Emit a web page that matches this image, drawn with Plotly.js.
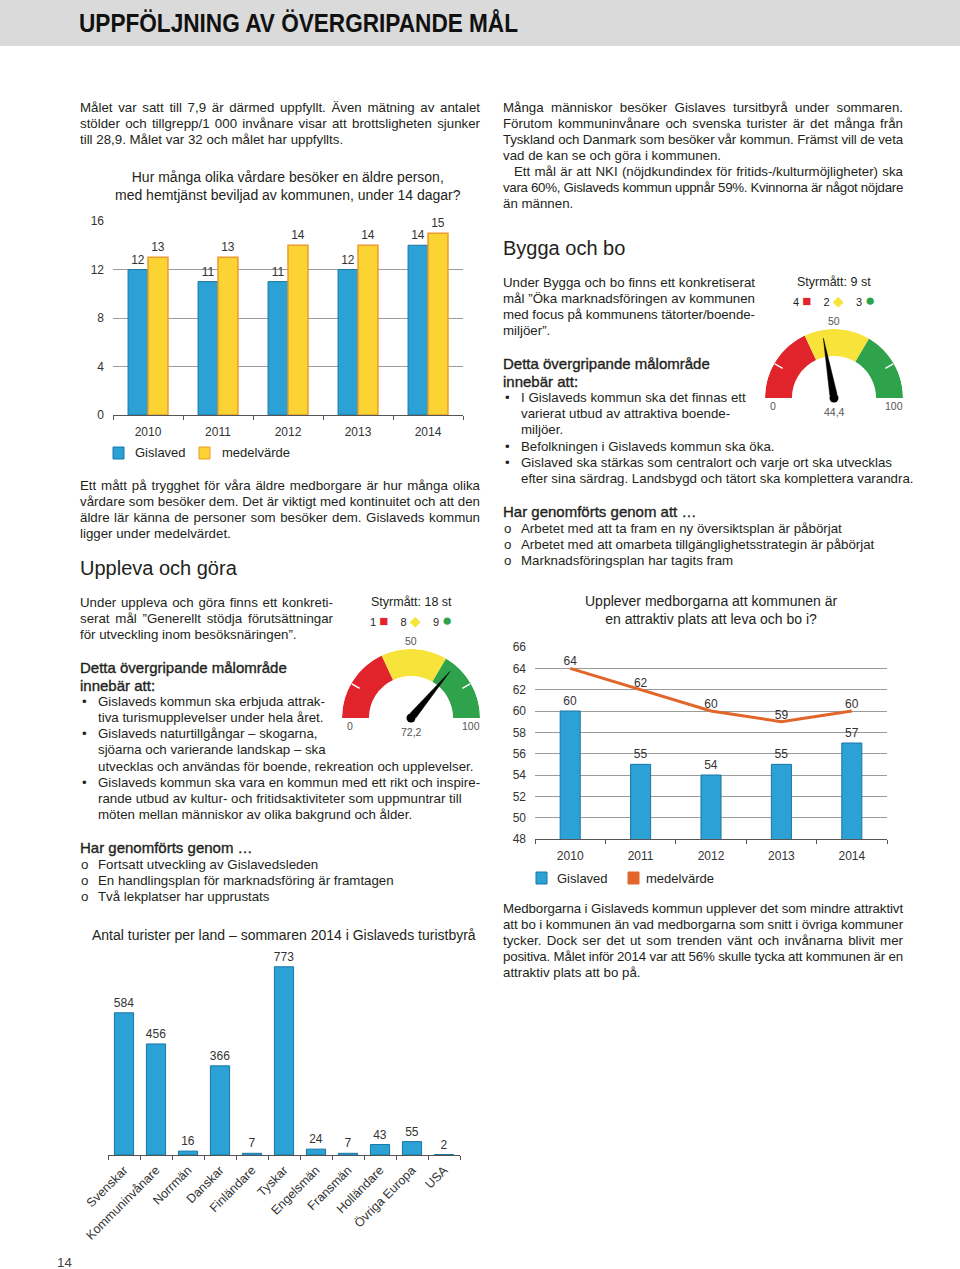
<!DOCTYPE html>
<html><head><meta charset="utf-8">
<script src="https://cdn.plot.ly/plotly-3.0.1.min.js"></script>
<style>
body{margin:0;width:960px;height:1269px;position:relative;background:#fff;font-family:"Liberation Sans",Arial,sans-serif;color:#231f20;overflow:hidden}
#hdr{position:absolute;left:0;top:0;width:960px;height:46px;background:#dadada}
#hdrt{position:absolute;left:79px;top:11px;line-height:25px;font-family:"Liberation Sans",Arial,sans-serif;font-weight:bold;font-size:25px;color:#111;white-space:nowrap;transform-origin:0 50%}
#chart{position:absolute;left:0;top:0;width:960px;height:1269px}
#txt{position:absolute;left:0;top:0;width:960px;height:1269px;pointer-events:none}
.ln{position:absolute;white-space:nowrap;font-size:13.3px;line-height:16px;height:16px}
.h1{font-size:20px;line-height:24px;height:24px}
.h2{font-size:15px;line-height:18px;height:18px;-webkit-text-stroke:0.35px #231f20}
</style></head>
<body>
<div id="hdr"></div>
<div id="hdrt">UPPFÖLJNING AV ÖVERGRIPANDE MÅL</div>
<div id="chart"></div>
<div id="txt"></div>
<script>
// ---------- data ----------
const years = ['2010','2011','2012','2013','2014'];
const vardareGislaved = [12,11,11,12,14];
const vardareMedel = [13,13,14,14,15];
const attraktivGislaved = [60,55,54,55,57];
const attraktivMedel = [64,62,60,59,60];
const turistLand = ['Svenskar','Kommuninvånare','Norrmän','Danskar','Finländare','Tyskar','Engelsmän','Fransmän','Holländare','Övriga Europa','USA'];
const turistAntal = [584,456,16,366,7,773,24,7,43,55,2];
const gaugeBands = [36,67,100];
const gaugeUpplevaValue = 72.2;
const gaugeByggaValue = 44.4;
const styrUppleva = [1,8,9];
const styrBygga = [4,2,3];

// ---------- style ----------
const BLUE='#2ba1d5', BLUE_L='#1a77a6', YEL='#fbd434', YEL_L='#ec9a2b', ORA='#e2662a';
const GRED='#e1242b', GYEL='#f7e33a', GGRN='#2fa34b';
const FONT='"Liberation Sans", Arial, sans-serif';
const W=960, H=1269;
const X = x => x/W, Y = y => 1 - y/H;
const fmt = v => String(v).replace('.', ',');

const traces = [];
// chart 1
traces.push({type:'bar', x:years, y:vardareGislaved, xaxis:'x', yaxis:'y', name:'Gislaved',
  marker:{color:BLUE, line:{color:BLUE_L, width:1}}, text:vardareGislaved.map(String), textposition:'outside',
  cliponaxis:false, constraintext:'none', textfont:{size:12,color:'#333'}});
traces.push({type:'bar', x:years, y:vardareMedel, xaxis:'x', yaxis:'y', name:'medelvärde',
  marker:{color:YEL, line:{color:YEL_L, width:1.5}}, text:vardareMedel.map(String), textposition:'outside',
  cliponaxis:false, constraintext:'none', textfont:{size:12,color:'#333'}});
// chart 3
traces.push({type:'bar', x:years, y:attraktivGislaved, xaxis:'x2', yaxis:'y2', name:'Gislaved', width:0.285,
  marker:{color:BLUE, line:{color:BLUE_L, width:1}}, text:attraktivGislaved.map(String), textposition:'outside',
  cliponaxis:false, constraintext:'none', textfont:{size:12,color:'#333'}});
traces.push({type:'scatter', mode:'lines+text', x:years, y:attraktivMedel, xaxis:'x2', yaxis:'y2', name:'medelvärde',
  line:{color:ORA, width:3}, text:attraktivMedel.map(String), textposition:'top center', cliponaxis:false,
  textfont:{size:12,color:'#333'}});
// chart 4
traces.push({type:'bar', x:turistLand, y:turistAntal, xaxis:'x3', yaxis:'y3', width:0.6,
  marker:{color:BLUE, line:{color:BLUE_L, width:1}}, text:turistAntal.map(String), textposition:'outside',
  cliponaxis:false, constraintext:'none', textfont:{size:12,color:'#333'}});

// gauges
const HOLE = 0.61;
function gauge(sub, value){
  const starts = gaugeBands.map((b,i)=> i===0?0:gaugeBands[i-1]);
  traces.push({type:'barpolar', subplot:sub,
    r: gaugeBands.map(()=>1-HOLE), base: gaugeBands.map(()=>HOLE),
    theta: gaugeBands.map((b,i)=>(starts[i]+b)/2*1.8),
    width: gaugeBands.map((b,i)=>(b-starts[i])*1.8),
    marker:{color:[GRED,GYEL,GGRN], line:{width:0}}});
  [30,150].forEach(t=>traces.push({type:'scatterpolar', subplot:sub, mode:'lines', r:[0.86,0.99], theta:[t,t],
    line:{color:'#ffffff', width:1.5}}));
  const t = value*1.8;
  traces.push({type:'scatterpolar', subplot:sub, mode:'lines', fill:'toself', fillcolor:'#000',
    r:[0.07,0.88,0.07,0.07], theta:[t-50,t,t+50,t-50], line:{color:'#000', width:0.5}});
  traces.push({type:'scatterpolar', subplot:sub, mode:'markers', r:[0], theta:[t], cliponaxis:false,
    marker:{color:'#000', size:9}});
}
gauge('polar', gaugeUpplevaValue);
gauge('polar2', gaugeByggaValue);

const tickF = {family:FONT, size:12, color:'#333'};
const catAxis = (d, anchor) => ({domain:d, anchor:anchor, type:'category', tickson:'boundaries', ticks:'outside', ticklen:4,
  tickcolor:'#555', showline:true, linecolor:'#555', linewidth:1, showgrid:false, tickfont:tickF, fixedrange:true,
  ticklabelstandoff:6});
const valAxis = (d, anchor, range, dtick) => ({domain:d, anchor:anchor, range:range, dtick:dtick, showgrid:true,
  gridcolor:'#9b9b9b', gridwidth:1, zeroline:false, showline:false, ticks:'', tickfont:tickF, fixedrange:true,
  ticklabelstandoff:8});
const polarL = (dx, dy) => ({domain:{x:dx, y:dy}, sector:[0,180], bgcolor:'rgba(0,0,0,0)',
  radialaxis:{visible:false, range:[0,1]}, angularaxis:{visible:false, rotation:180, direction:'clockwise'}});

const ann = [];
const A = (x,y,text,size,extra) => ann.push(Object.assign({xref:'paper', yref:'paper', x:X(x), y:Y(y), text:text,
  showarrow:false, xanchor:'center', yanchor:'middle', font:{family:FONT, size:size||12, color:'#231f20'}}, extra||{}));
A(288,186,'Hur många olika vårdare besöker en äldre person,<br>med hemtjänst beviljad av kommunen, under 14 dagar?',14);
A(711,610,'Upplever medborgarna att kommunen är<br>en attraktiv plats att leva och bo i?',14);
A(284,935,'Antal turister per land – sommaren 2014 i Gislaveds turistbyrå',14);
// legends
const shapes = [];
const sq = (x,y,c,lc) => shapes.push({type:'rect', xref:'paper', yref:'paper', x0:X(x), x1:X(x+11), y0:Y(y+6), y1:Y(y-6),
  fillcolor:c, line:{color:lc, width:1}});
sq(113,453,BLUE,BLUE_L); A(133,453,'Gislaved',13,{xanchor:'left'});
sq(199,453,YEL,YEL_L); A(220,453,'medelvärde',13,{xanchor:'left'});
sq(536,878,BLUE,BLUE_L); A(555,878,'Gislaved',13,{xanchor:'left'});
sq(628,878,ORA,ORA); A(644,878,'medelvärde',13,{xanchor:'left'});
// gauge labels
function gaugeText(cx, by, value, styr){
  const tot = styr.reduce((a,b)=>a+b,0);
  A(cx, by-116, 'Styrmått: '+tot+' st', 12.5);
  const s = (c,f) => ' <span style="color:'+c+';font-size:'+f+'px">';
  A(cx, by-98, styr[0]+s(GRED,15)+'■</span>    '+styr[1]+s(GYEL,14)+'◆</span>    '+styr[2]+s(GGRN,17)+'●</span>', 11);
  const gf = {font:{family:FONT,size:10.5,color:'#555'}};
  A(cx, by-77, '50', 10.5, gf);
  A(cx-61, by+8, '0', 10.5, gf);
  A(cx+60, by+8, '100', 10.5, gf);
  A(cx, by+14, fmt(value), 10.5, gf);
}
gaugeText(411,718,gaugeUpplevaValue,styrUppleva);
gaugeText(834,398,gaugeByggaValue,styrBygga);

const layout = {width:W, height:H, margin:{l:0,r:0,t:0,b:0}, paper_bgcolor:'rgba(0,0,0,0)', plot_bgcolor:'rgba(0,0,0,0)',
  showlegend:false, hovermode:false, barmode:'group', bargap:0.43, bargroupgap:0, font:{family:FONT},
  xaxis: catAxis([X(113),X(463)],'y'),
  yaxis: valAxis([Y(415),Y(221)],'x',[0,16],4),
  xaxis2: catAxis([X(535),X(887)],'y2'),
  yaxis2: valAxis([Y(839),Y(647)],'x2',[48,66],2),
  xaxis3: Object.assign(catAxis([X(108),X(460)],'y3'),{tickangle:-45, ticklabelstandoff:2, tickfont:{family:FONT,size:12.5,color:'#333'}}),
  yaxis3: {domain:[Y(1155),Y(948)], anchor:'x3', range:[0,850], visible:false, fixedrange:true},
  polar: polarL([X(342),X(480)],[Y(718),Y(649)]),
  polar2: polarL([X(765),X(903)],[Y(398),Y(329)]),
  annotations: ann, shapes: shapes};
Plotly.newPlot('chart', traces, layout, {staticPlot:true, displayModeBar:false});

// ---------- body text ----------
const txt = document.getElementById('txt');
const justified = [];
function line(x, yc, text, w, cls){
  const d = document.createElement('div');
  d.className = 'ln' + (cls ? ' '+cls : '');
  d.textContent = text;
  const h = cls==='h1' ? 24 : cls==='h2' ? 18 : 16;
  d.style.left = x+'px'; d.style.top = (yc - h/2)+'px';
  txt.appendChild(d);
  if (w) justified.push([d,w]);
  return d;
}
function para(x, y0, lines, w, step){
  lines.forEach((l,i)=>{ const j = l[0]==='J'; line(x + (l[1]||0), y0 + i*(step||16), l[2], j ? w-(l[1]||0) : 0); });
}
para(80,108,[
 ['J',0,'Målet var satt till 7,9 är därmed uppfyllt. Även mätning av antalet'],
 ['J',0,'stölder och tillgrepp/1 000 invånare visar att brottsligheten sjunker'],
 ['L',0,'till 28,9. Målet var 32 och målet har uppfyllts.']],400);
para(80,486,[
 ['J',0,'Ett mått på trygghet för våra äldre medborgare är hur många olika'],
 ['J',0,'vårdare som besöker dem. Det är viktigt med kontinuitet och att den'],
 ['J',0,'äldre lär känna de personer som besöker dem. Gislaveds kommun'],
 ['L',0,'ligger under medelvärdet.']],400);
line(80,568,'Uppleva och göra',0,'h1');
para(80,603,[
 ['J',0,'Under uppleva och göra finns ett konkreti-'],
 ['J',0,'serat mål ”Generellt stödja förutsättningar'],
 ['L',0,'för utveckling inom besöksnäringen”.']],253);
line(80,668,'Detta övergripande målområde',0,'h2');
line(80,686,'innebär att:',0,'h2');
[[702,'Gislaveds kommun ska erbjuda attrak-',1],[718,'tiva turismupplevelser under hela året.',0],
 [734,'Gislaveds naturtillgångar – skogarna,',1],[750,'sjöarna och varierande landskap – ska',0],
 [767,'utvecklas och användas för boende, rekreation och upplevelser.',0],
 [783,'Gislaveds kommun ska vara en kommun med ett rikt och inspire-',1],
 [799,'rande utbud av kultur- och fritidsaktiviteter som uppmuntrar till',0],
 [815,'möten mellan människor av olika bakgrund och ålder.',0]].forEach(b=>{
   if (b[2]) line(82,b[0],'•'); line(98,b[0],b[1]); });
line(80,848,'Har genomförts genom …',0,'h2');
[[865,'Fortsatt utveckling av Gislavedsleden'],[881,'En handlingsplan för marknadsföring är framtagen'],
 [897,'Två lekplatser har upprustats']].forEach(b=>{ line(81,b[0],'o'); line(98,b[0],b[1]); });

para(503,108,[
 ['J',0,'Många människor besöker Gislaves tursitbyrå under sommaren.'],
 ['J',0,'Förutom kommuninvånare och svenska turister är det många från'],
 ['J',0,'Tyskland och Danmark som besöker vår kommun. Främst vill de veta'],
 ['L',0,'vad de kan se och göra i kommunen.'],
 ['J',11,'Ett mål är att NKI (nöjdkundindex för fritids-/kulturmöjligheter) ska'],
 ['J',0,'vara 60%, Gislaveds kommun uppnår 59%. Kvinnorna är något nöjdare'],
 ['L',0,'än männen.']],400);
line(503,248,'Bygga och bo',0,'h1');
para(503,283,[
 ['J',0,'Under Bygga och bo finns ett konkretiserat'],
 ['J',0,'mål ”Öka marknadsföringen av kommunen'],
 ['J',0,'med focus på kommunens tätorter/boende-'],
 ['L',0,'miljöer”.']],252);
line(503,364,'Detta övergripande målområde',0,'h2');
line(503,382,'innebär att:',0,'h2');
[[398,'I Gislaveds kommun ska det finnas ett',1],[414,'varierat utbud av attraktiva boende-',0],[430,'miljöer.',0],
 [447,'Befolkningen i Gislaveds kommun ska öka.',1],
 [463,'Gislaved ska stärkas som centralort och varje ort ska utvecklas',1],
 [479,'efter sina särdrag. Landsbygd och tätort ska komplettera varandra.',0]].forEach(b=>{
   if (b[2]) line(505,b[0],'•'); line(521,b[0],b[1]); });
line(503,512,'Har genomförts genom att …',0,'h2');
[[529,'Arbetet med att ta fram en ny översiktsplan är påbörjat'],[545,'Arbetet med att omarbeta tillgänglighetsstrategin är påbörjat'],
 [561,'Marknadsföringsplan har tagits fram']].forEach(b=>{ line(504,b[0],'o'); line(521,b[0],b[1]); });
para(503,909,[
 ['J',0,'Medborgarna i Gislaveds kommun upplever det som mindre attraktivt'],
 ['J',0,'att bo i kommunen än vad medborgarna som snitt i övriga kommuner'],
 ['J',0,'tycker. Dock ser det ut som trenden vänt och invånarna blivit mer'],
 ['J',0,'positiva. Målet inför 2014 var att 56% skulle tycka att kommunen är en'],
 ['L',0,'attraktiv plats att bo på.']],400);
line(57,1263,'14',0).style.color='#444';

function fit(){
  justified.forEach(([d,w])=>{
    d.style.width=''; d.style.letterSpacing=''; d.style.textAlign=''; d.style.textAlignLast='';
    d.style.display='inline-block';
    const nat = d.getBoundingClientRect().width;
    d.style.display='';
    if (nat > w) d.style.letterSpacing = ((w-nat)/d.textContent.length)+'px';
    d.style.width = w+'px';
    d.style.textAlign='justify'; d.style.textAlignLast='justify';
  });
  const h = document.getElementById('hdrt');
  h.style.transform='';
  const hw = h.getBoundingClientRect().width;
  h.style.transform = 'scaleX('+(439/hw)+')';
}
fit();
if (document.fonts && document.fonts.ready) document.fonts.ready.then(fit);
</script>
</body></html>
